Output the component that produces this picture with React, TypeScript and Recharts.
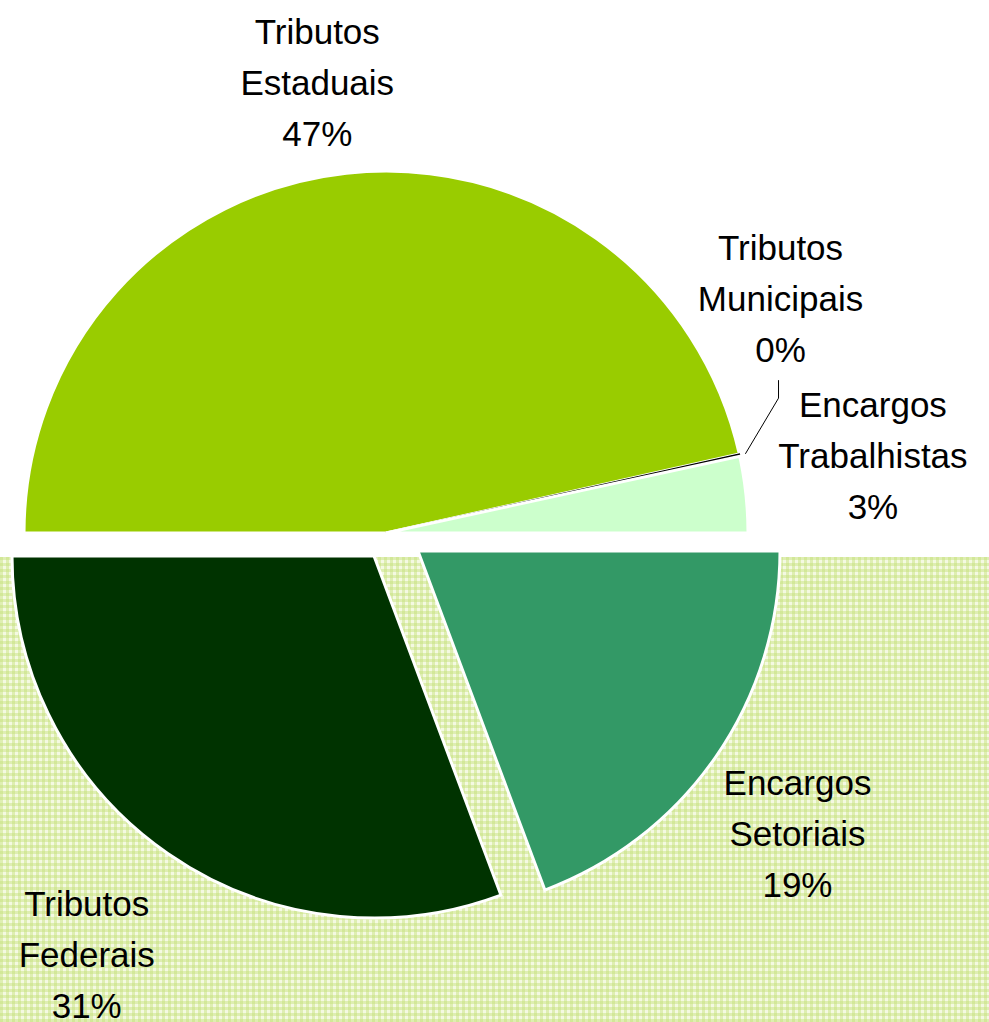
import * as React from 'react';
import { PieChart, Pie, Cell } from 'recharts';

// Share of each tax / charge group (percent)
const categories = [
  'Tributos Estaduais',
  'Tributos Municipais',
  'Encargos Trabalhistas',
  'Encargos Setoriais',
  'Tributos Federais',
];
const shares = [46.5, 0.1, 3.4, 19.3, 30.7];
const colors = ['#99cc00', '#000000', '#ccffcc', '#339966', '#003300'];

// which slices sit in the main pie and which are pulled out on their own
const groups = [
  { key: 'main', slices: [0, 1, 2], cx: 386, cy: 533 },
  { key: 'setoriais', slices: [3], cx: 418, cy: 551 },
  { key: 'federais', slices: [4], cx: 374, cy: 556 },
];

// label placement: offset of the middle text line from the slice's outer mid point
const labelOffsets: Record<string, { dx: number; dy: number }> = {
  'Tributos Estaduais': { dx: -29, dy: -91 },
  'Tributos Municipais': { dx: 41, dy: -157 },
  'Encargos Trabalhistas': { dx: 127, dy: -39 },
  'Encargos Setoriais': { dx: 82, dy: 76 },
  'Tributos Federais': { dx: -81, dy: 101 },
};

const data = categories.map((name, i) => ({ name, value: shares[i] }));

const RADIAN = Math.PI / 180;
const FONT = '"Liberation Sans", Arial, sans-serif';
const LINE_H = 51;

function makeLabel(visible: number[]) {
  return (props: any) => {
    const { cx, cy, midAngle, outerRadius, index, name, value } = props;
    if (!visible.includes(index)) return null;
    const ox = cx + outerRadius * Math.cos(-midAngle * RADIAN);
    const oy = cy + outerRadius * Math.sin(-midAngle * RADIAN);
    const off = labelOffsets[name];
    const x = ox + off.dx;
    const y = oy + off.dy;
    const words = name.split(' ');
    const lines = [words[0], words[1], `${Math.round(value)}%`];
    let leader = null;
    if (name === 'Tributos Municipais') {
      const sx = cx + (outerRadius + 6) * Math.cos(-midAngle * RADIAN);
      const sy = cy + (outerRadius + 6) * Math.sin(-midAngle * RADIAN);
      leader = (
        <polyline
          points={`${sx},${sy} ${x - 2},${y + 100} ${x - 2},${y + 82}`}
          fill="none"
          stroke="#000"
          strokeWidth={1}
        />
      );
    }
    return (
      <g key={`lbl-${index}`}>
        {leader}
        <text
          x={x}
          y={y}
          textAnchor="middle"
          fontFamily={FONT}
          fontSize={35}
          fill="#000"
        >
          {lines.map((t, j) => (
            <tspan key={j} x={x} y={y + (j - 1) * LINE_H} dy="0.36em">
              {t}
            </tspan>
          ))}
        </text>
      </g>
    );
  };
}

export default function App() {
  return (
    <div style={{ position: 'absolute', left: 0, top: 0, width: 989, height: 1022, background: '#fff', overflow: 'hidden' }}>
      <div
        style={{
          position: 'absolute',
          left: 0,
          top: 557,
          width: 989,
          height: 465,
          backgroundColor: '#f4f9e2',
          backgroundImage:
            'repeating-linear-gradient(0deg, rgba(196,224,120,0.45) 0px, rgba(196,224,120,0.45) 3px, transparent 3px, transparent 6px),' +
            'repeating-linear-gradient(90deg, rgba(196,224,120,0.45) 0px, rgba(196,224,120,0.45) 3px, transparent 3px, transparent 6px)',
        }}
      />
      <div style={{ position: 'absolute', left: 0, top: 0 }}>
        <PieChart width={989} height={1022} margin={{ top: 0, right: 0, bottom: 0, left: 0 }}>
          {groups.map((g) => (
            <Pie
              key={g.key}
              data={data}
              dataKey="value"
              nameKey="name"
              cx={g.cx}
              cy={g.cy}
              outerRadius={362}
              startAngle={180}
              endAngle={-180}
              isAnimationActive={false}
              label={makeLabel(g.slices)}
              labelLine={false}
            >
              {data.map((d, i) => {
                const shown = g.slices.includes(i);
                return (
                  <Cell
                    key={d.name}
                    fill={shown ? colors[i] : 'none'}
                    stroke={!shown ? 'none' : i === 1 ? '#000' : '#fff'}
                    strokeWidth={i === 1 ? 1.5 : 3}
                  />
                );
              })}
            </Pie>
          ))}
        </PieChart>
      </div>
    </div>
  );
}
